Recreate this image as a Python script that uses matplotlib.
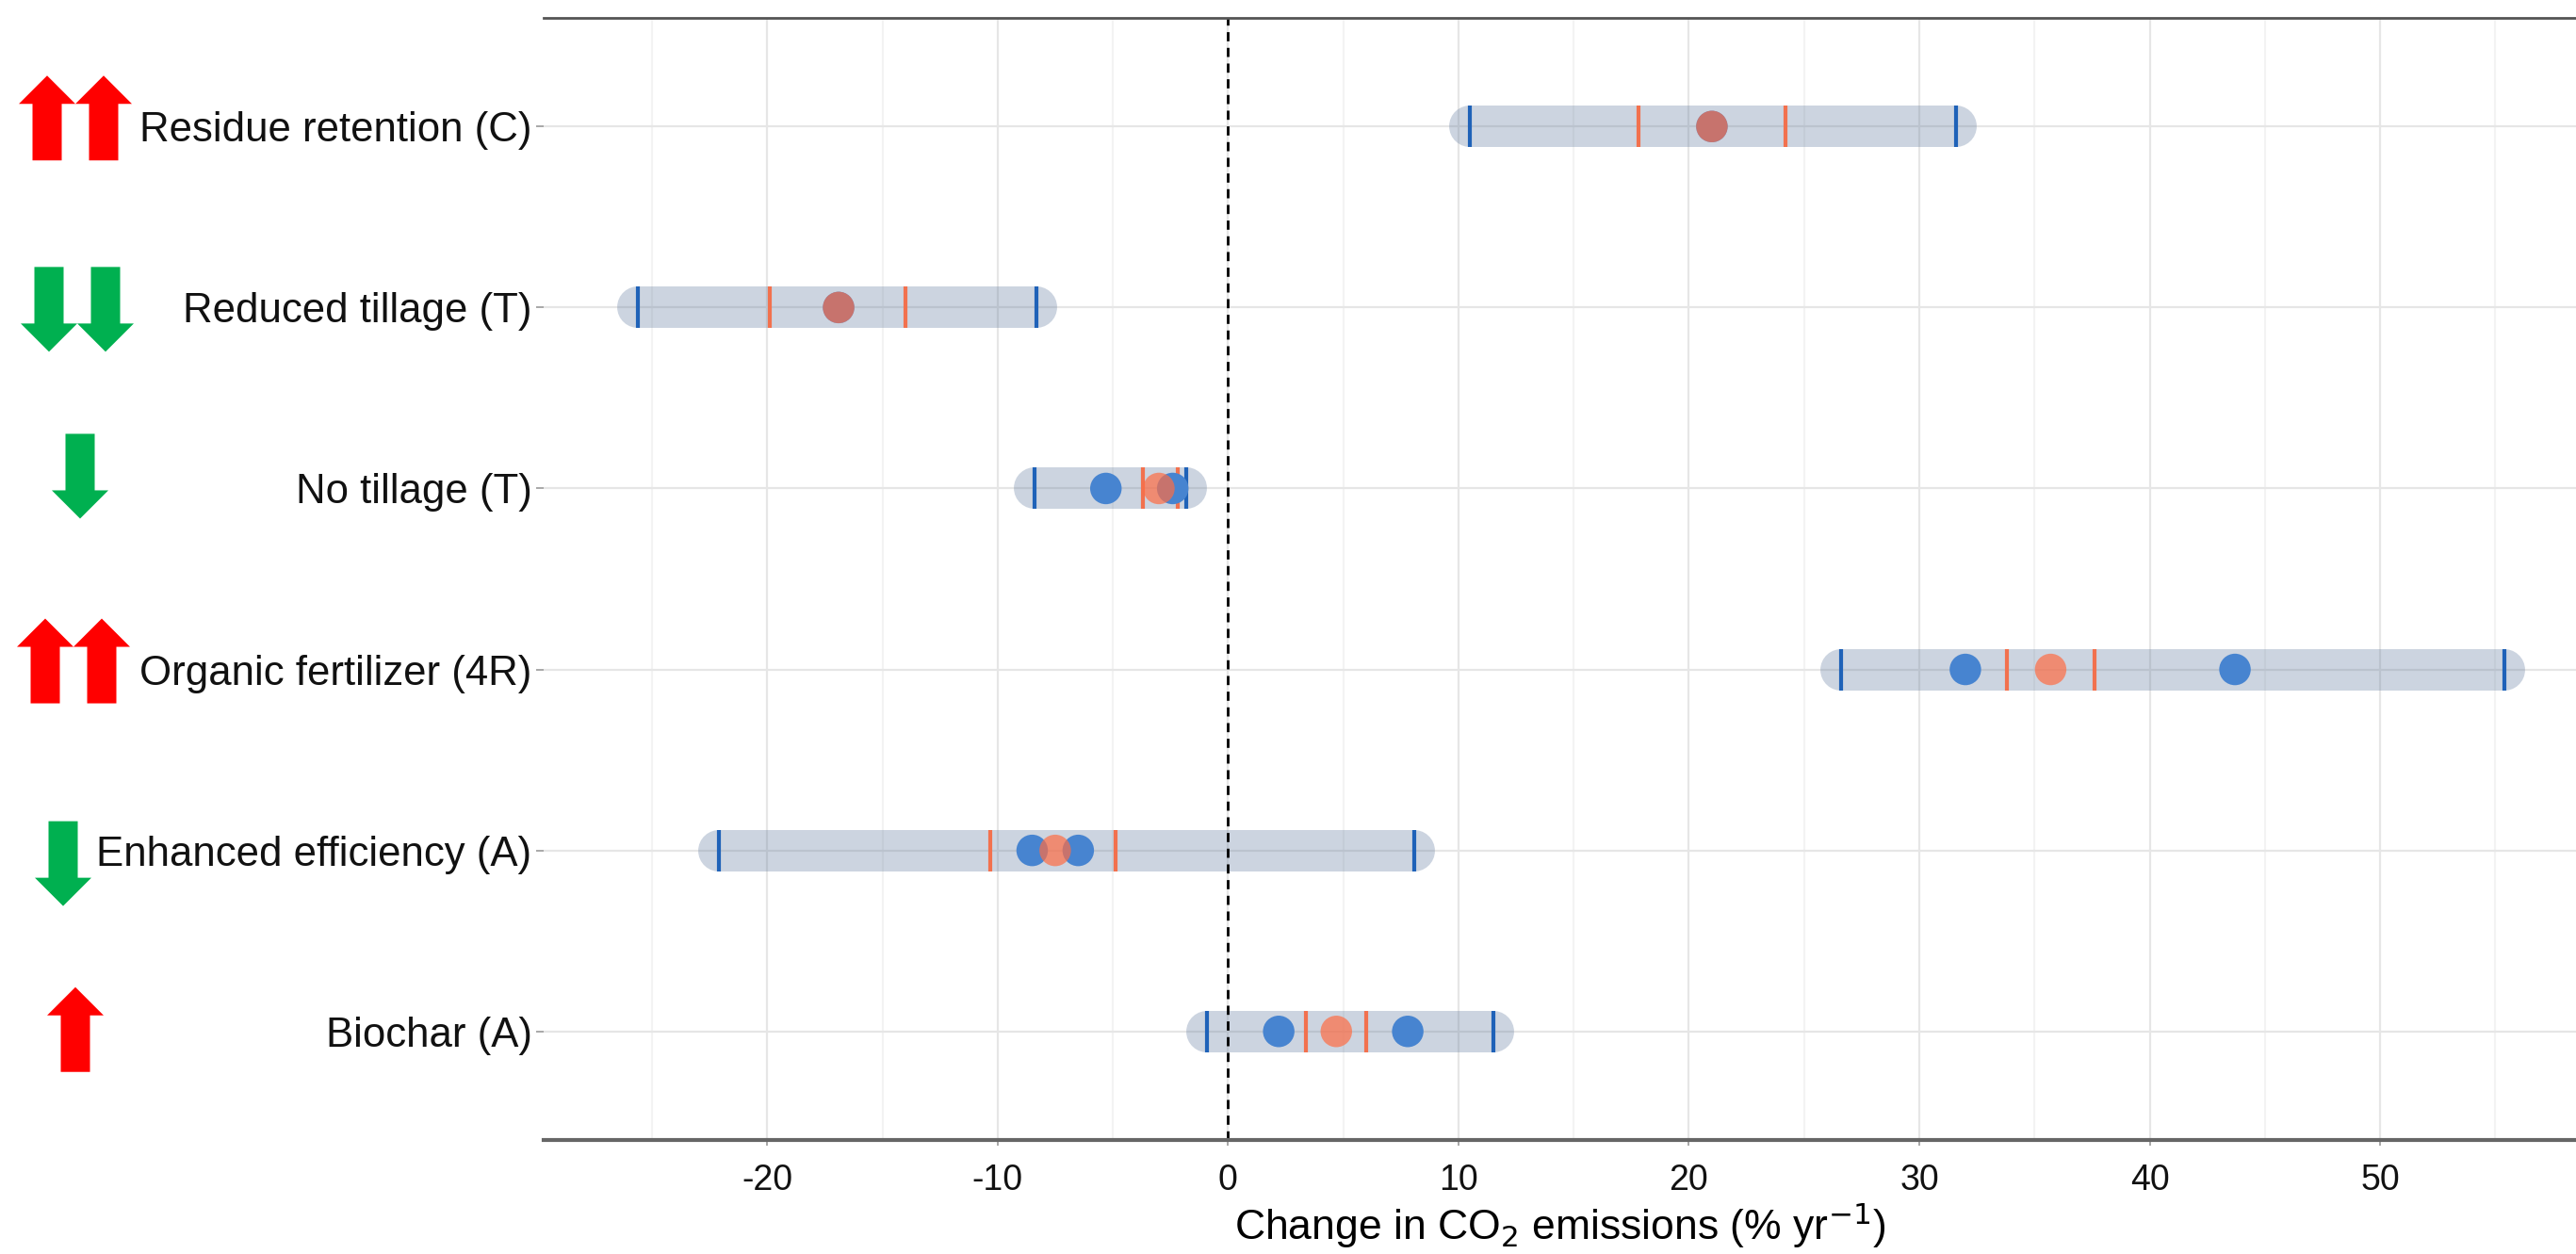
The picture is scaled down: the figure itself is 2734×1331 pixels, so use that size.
import numpy as np
import matplotlib
matplotlib.use("Agg")
import matplotlib.pyplot as plt
from matplotlib.patches import Polygon

plt.rcParams['font.family'] = ['Liberation Sans', 'DejaVu Sans']

# practices, top to bottom
categories = ["Residue retention (C)", "Reduced tillage (T)", "No tillage (T)",
              "Organic fertilizer (4R)", "Enhanced efficiency (A)", "Biochar (A)"]

# outer range (blue ticks)
outer_lo = [10.5, -25.6, -8.4, 26.6, -22.1, -0.9]
outer_hi = [31.6, -8.3, -1.8, 55.4, 8.1, 11.5]
# inner range (orange ticks)
inner_lo = [17.8, -19.9, -3.7, 33.8, -10.3, 3.4]
inner_hi = [24.2, -14.0, -2.2, 37.6, -4.9, 6.0]
# points
blue_pts = [[21.0], [-16.9], [-5.3, -2.4], [32.0, 43.7], [-8.5, -6.5], [2.2, 7.8]]
orange_pts = [21.0, -16.9, -3.0, 35.7, -7.5, 4.7]

# arrows next to labels: how many, which way
arrow_n = [2, 2, 1, 2, 1, 1]
arrow_dir = [1, -1, -1, 1, -1, 1]

xticks = [-20, -10, 0, 10, 20, 30, 40, 50]

W, H = 2734, 1331
fig = plt.figure(figsize=(W / 100, H / 100), dpi=100)
ax_l, ax_b, ax_t = 577 / W, 1 - 1210 / H, 1 - 19 / H
ax = fig.add_axes([ax_l, ax_b, 1 - ax_l, ax_t - ax_b])

ypos = np.arange(len(categories))[::-1] + 1
ax.set_xlim(-29.7, 58.5)
ax.set_ylim(0.4, 6.6)
px_per_unit = (ax_t - ax_b) * H / 6.2
half = 22 / px_per_unit

# grid
for v in np.arange(-25, 60, 10):
    ax.axvline(v, color='#f3f3f3', lw=1.5, zorder=0)
for v in xticks:
    ax.axvline(v, color='#e6e6e6', lw=1.6, zorder=0)
for y in ypos:
    ax.axhline(y, color='#e6e6e6', lw=1.6, zorder=0)

# grey range bars
ax.hlines(ypos, outer_lo, outer_hi, colors='#587399', alpha=0.3,
          linewidth=44 * 0.72, capstyle='round', zorder=1)

ax.axvline(0, color='black', lw=2.0, ls=(0, (3.5, 2.5)), zorder=2)

ax.vlines(outer_lo + outer_hi, np.r_[ypos, ypos] - half, np.r_[ypos, ypos] + half,
          colors='#1f62b8', lw=3, zorder=3)
ax.vlines(inner_lo + inner_hi, np.r_[ypos, ypos] - half, np.r_[ypos, ypos] + half,
          colors='#f2714e', lw=3, zorder=3)

for y, pts in zip(ypos, blue_pts):
    ax.scatter(pts, [y] * len(pts), s=580, color='#4784d0', edgecolor='none', zorder=4)
ax.scatter(orange_pts, ypos, s=580, color='#ff6d44', alpha=0.7, edgecolor='none', zorder=5)

ax.set_yticks(ypos)
ax.set_yticklabels(categories, fontsize=31.5, color='#111111')
ax.set_xticks(xticks)
ax.set_xticklabels([str(v) for v in xticks], fontsize=27, color='#111111')
ax.tick_params(axis='y', length=6, width=1.2, color='#999999', pad=3)
ax.tick_params(axis='x', length=4, width=1.2, color='#999999', pad=14)
ax.set_xlabel("Change in CO$_2$ emissions (% yr$^{-1}$)", fontsize=32, labelpad=2)

for s in ['left', 'right']:
    ax.spines[s].set_visible(False)
ax.spines['top'].set_color('#555555')
ax.spines['top'].set_linewidth(2)
ax.spines['bottom'].set_color('#666666')
ax.spines['bottom'].set_linewidth(3)

# arrow panel on the left
ax_arr = fig.add_axes([0, ax_b, ax_l, ax_t - ax_b], sharey=ax)
ax_arr.set_xlim(0, 577)
ax_arr.axis('off')
ax.set_ylim(0.4, 6.6)

arrow_x = [[50, 110], [52, 112], [85], [48, 108], [67], [80]]
arrow_dy = [9, -2, 13, 9, -14, 2]
A_H, A_HH, A_HW, A_SW = 90, 30, 60, 31
for y, xs, d, dy in zip(ypos, arrow_x, arrow_dir, arrow_dy):
    cy = y + dy / px_per_unit
    h2 = A_H / 2 / px_per_unit
    hh = A_HH / px_per_unit
    col = '#ff0000' if d > 0 else '#00b050'
    for cx in xs:
        tip = cy + d * h2
        base = cy - d * h2
        neck = tip - d * hh
        pts = [(cx - A_SW / 2, base), (cx + A_SW / 2, base), (cx + A_SW / 2, neck),
               (cx + A_HW / 2, neck), (cx, tip), (cx - A_HW / 2, neck), (cx - A_SW / 2, neck)]
        ax_arr.add_patch(Polygon(pts, closed=True, color=col, lw=0))

fig.savefig("out.png", dpi=100)
